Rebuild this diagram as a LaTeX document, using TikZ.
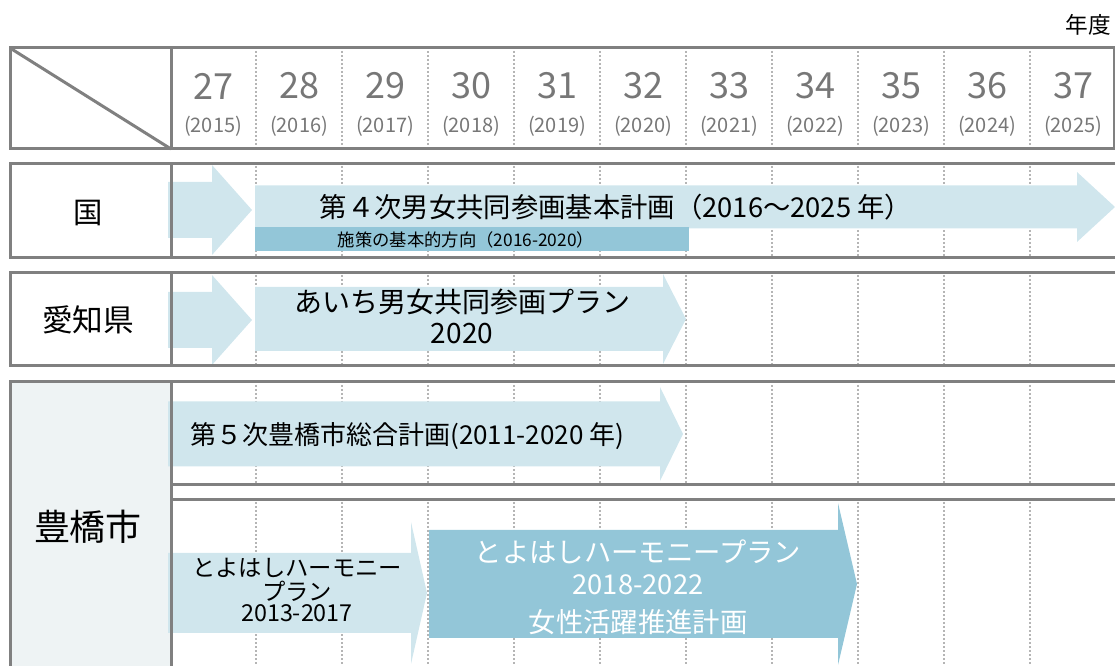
\documentclass[tikz,border=0pt]{standalone}
\usepackage{fontspec}
\setmainfont{Noto Sans CJK JP}
\definecolor{lb}{HTML}{D0E6ED}
\definecolor{db}{HTML}{93C6D8}
\definecolor{gl}{HTML}{808080}
\definecolor{dl}{HTML}{B5B5B5}
\definecolor{yt}{HTML}{777777}
\definecolor{lg}{HTML}{EEF3F4}
\newcommand{\fs}[1]{\fontsize{#1}{#1}\selectfont}
% fill, x0, xb, xtip, yc, bodyhalf, headhalf
\newcommand{\parrow}[7]{%
  \fill[#1] (#2,#5-#6) -- (#3,#5-#6) -- (#3,#5-#7) -- (#4,#5) -- (#3,#5+#7) -- (#3,#5+#6) -- (#2,#5+#6) -- cycle;}
\tikzset{
  grid/.style={draw=gl, line width=2.25pt},
  dots/.style={draw=dl, line width=1.4pt, dash pattern=on 1.5pt off 1.5pt},
  yearnum/.style={text=yt, font=\fs{27pt}, inner sep=0pt},
  yearsub/.style={text=yt, font=\fs{15pt}, inner sep=0pt},
  lbl/.style={inner sep=0pt, text=black},
}
\begin{document}
\begin{tikzpicture}[x=0.75pt,y=-0.75pt]
\useasboundingbox (0,0) rectangle (1115,666);
\clip (0,0) rectangle (1115,666);
% left gray column of Toyohashi
\fill[lg] (10,382) rectangle (171,680);
% dotted year lines
\foreach \k in {1,...,10} {
  \draw[dots] (170+86*\k,51) -- (170+86*\k,147);
  \draw[dots] (170+86*\k,166) -- (170+86*\k,256);
  \draw[dots] (170+86*\k,275) -- (170+86*\k,364);
  \draw[dots] (170+86*\k,385) -- (170+86*\k,483);
  \draw[dots] (170+86*\k,502) -- (170+86*\k,666);
}
% arrows
\parrow{lb}{168}{212}{252}{210}{28}{45}
\parrow{lb}{255}{1077}{1115}{207}{21.5}{35}
\fill[db] (255,227) rectangle (689,251);
\parrow{lb}{168}{212}{252}{320}{28}{45}
\parrow{lb}{255}{663}{686}{319}{32}{45}
\parrow{lb}{168}{660}{683}{434}{32.5}{47}
\parrow{lb}{168}{411}{427}{593}{40}{71}
\parrow{db}{429}{838}{857}{584}{54}{81}
% borders
\draw[grid] (10,48) rectangle (1114,149);
\draw[grid] (10,48) -- (171,149);
\draw[grid] (171,48) -- (171,149);
\draw[grid] (10,164) rectangle (1125,258);
\draw[grid] (171,164) -- (171,258);
\draw[grid] (10,273) rectangle (1125,366);
\draw[grid] (171,273) -- (171,366);
\draw[grid] (10,382) rectangle (171,680);
\draw[grid] (171,382) -- (1125,382);
\draw[grid] (171,485) -- (1125,485);
\draw[grid] (171,500) -- (1125,500);
% header texts
\node[lbl, anchor=east, font=\fs{17pt}] (nendo) at (1111,25) {年度};
\foreach \k in {0,...,10} {
  \pgfmathtruncatemacro{\yn}{27+\k}
  \pgfmathtruncatemacro{\ya}{2015+\k}
  \node[yearnum] (yn\k) at (213+86*\k,86) {\yn};
  \node[yearsub] (ya\k) at (213+86*\k,126) {(\ya)};
}
% row labels
\node[lbl, font=\fs{22pt}] (kuni) at (88,213) {国};
\node[lbl, font=\fs{23pt}] (aichi) at (88,320) {愛知県};
\node[lbl, font=\fs{27pt}] (toyo) at (88,527) {豊橋市};
% plan texts
\node[lbl, font=\fs{20.5pt}] (kplan) at (616,207) {第４次男女共同参画基本計画（2016～2025 年）};
\node[lbl, font=\fs{13pt}] (kbar) at (466,240) {施策の基本的方向（2016-2020）};
\node[lbl, font=\fs{21pt}] (aplan1) at (462,302) {あいち男女共同参画プラン};
\node[lbl, font=\fs{21pt}] (aplan2) at (462,334) {2020};
\node[lbl, font=\fs{19.5pt}, anchor=west] (tplan) at (190,436) {第５次豊橋市総合計画(2011-2020 年)};
\node[lbl, font=\fs{17.5pt}] (h1a) at (297,568) {とよはしハーモニー};
\node[lbl, font=\fs{17.5pt}] (h1b) at (297,591) {プラン};
\node[lbl, font=\fs{17.5pt}] (h1c) at (297,613) {2013-2017};
\node[lbl, text=white, font=\fs{20.5pt}] (h2a) at (638,552) {とよはしハーモニープラン};
\node[lbl, text=white, font=\fs{20.5pt}] (h2b) at (638,585) {2018-2022};
\node[lbl, text=white, font=\fs{20.5pt}] (h2c) at (638,622) {女性活躍推進計画};
\end{tikzpicture}
\end{document}
